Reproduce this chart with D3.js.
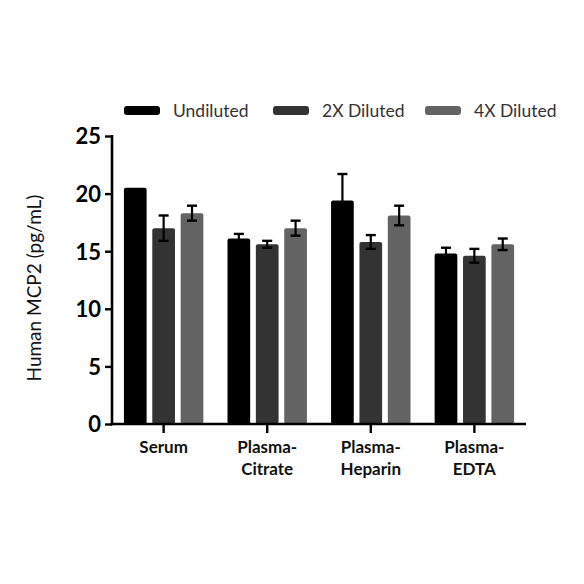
<!DOCTYPE html>
<html><head><meta charset="utf-8">
<script src="https://cdn.jsdelivr.net/npm/d3@7/dist/d3.min.js"></script>
<style>body{margin:0;background:#fff}svg{display:block}</style>
</head><body>
<svg id="c" width="584" height="584"></svg>
<script>
const categories = [["Serum"], ["Plasma-", "Citrate"], ["Plasma-", "Heparin"], ["Plasma-", "EDTA"]];
const seriesNames = ["Undiluted", "2X Diluted", "4X Diluted"];
const seriesColors = ["#000000", "#333333", "#636363"];
const undiluted = [20.5, 16.1, 19.4, 14.8];
const undilutedErr = [0.0, 0.4, 2.3, 0.5];
const diluted2x = [17.0, 15.6, 15.8, 14.6];
const diluted2xErr = [1.1, 0.3, 0.6, 0.6];
const diluted4x = [18.3, 17.0, 18.1, 15.6];
const diluted4xErr = [0.65, 0.65, 0.85, 0.5];
const yTicks = [0, 5, 10, 15, 20, 25];
const yTitle = "Human MCP2 (pg/mL)";

const values = [undiluted, diluted2x, diluted4x];
const errs = [undilutedErr, diluted2xErr, diluted4xErr];
const font = "Lato, 'Open Sans', sans-serif";

const svg = d3.select("#c");
const mLeft = 112, mRight = 526, mTop = 136, mBottom = 424;

const x0 = d3.scaleBand().domain(d3.range(categories.length)).range([mLeft, mRight]).paddingInner(0.233).paddingOuter(0.115);
const x1 = d3.scaleBand().domain(d3.range(seriesNames.length)).range([0, x0.bandwidth()]).paddingInner(0.2);
const y = d3.scaleLinear().domain([0, 25]).range([mBottom, mTop]);

// bars
const g = svg.append("g");
categories.forEach((c, i) => {
  seriesNames.forEach((s, j) => {
    const v = values[j][i], e = errs[j][i];
    const bx = x0(i) + x1(j);
    const bw = x1.bandwidth();
    g.append("rect").attr("x", bx).attr("y", y(v)).attr("width", bw).attr("height", y(0) - y(v))
      .attr("rx", 2).attr("fill", seriesColors[j]);
    if (e <= 0) return;
    const cx = bx + bw / 2;
    const capW = 10;
    g.append("line").attr("x1", cx).attr("x2", cx).attr("y1", y(v + e)).attr("y2", y(v - e))
      .attr("stroke", "#000").attr("stroke-width", 2.2);
    [v + e, v - e].forEach(t => {
      g.append("line").attr("x1", cx - capW / 2).attr("x2", cx + capW / 2).attr("y1", y(t)).attr("y2", y(t))
        .attr("stroke", "#000").attr("stroke-width", 2.4);
    });
  });
});

// y axis
const ya = svg.append("g").attr("transform", `translate(${mLeft},0)`)
  .call(d3.axisLeft(y).tickValues(yTicks).tickSize(7).tickPadding(4).tickSizeOuter(0));
ya.select(".domain").attr("stroke", "#000").attr("stroke-width", 2.6).attr("d", `M0,${mTop - 1}V${mBottom + 1.3}`);
ya.selectAll(".tick line").attr("stroke", "#000").attr("stroke-width", 2.4);
ya.selectAll(".tick text").attr("font-family", font).attr("font-weight", "bold").attr("font-size", 22).attr("fill", "#000").attr("dy", "0.36em");

// x axis
const xa = svg.append("g").attr("transform", `translate(0,${mBottom})`)
  .call(d3.axisBottom(d3.scaleLinear().range([mLeft, mRight])).tickValues([]).tickSizeOuter(0));
xa.select(".domain").attr("stroke", "#000").attr("stroke-width", 2.6).attr("d", `M${mLeft - 1.3},0H${mRight}`);
categories.forEach((c, i) => {
  const cx = x0(i) + x0.bandwidth() / 2;
  xa.append("line").attr("x1", cx).attr("x2", cx).attr("y1", 0).attr("y2", 9).attr("stroke", "#000").attr("stroke-width", 2.4);
  const t = xa.append("text").attr("text-anchor", "middle").attr("font-family", font).attr("font-weight", "bold")
    .attr("font-size", 17).attr("fill", "#111");
  c.forEach((line, k) => t.append("tspan").attr("x", cx).attr("y", 29 + k * 22).text(line));
});

// y title
svg.append("text").attr("transform", `translate(41,288) rotate(-90)`).attr("text-anchor", "middle")
  .attr("font-family", font).attr("font-size", 19).attr("fill", "#111").text(yTitle);

// legend
const legX = [124, 273, 425];
seriesNames.forEach((s, j) => {
  svg.append("rect").attr("x", legX[j]).attr("y", 106).attr("width", 36).attr("height", 9).attr("rx", 3).attr("fill", seriesColors[j]);
  svg.append("text").attr("x", legX[j] + 49).attr("y", 117).attr("font-family", font).attr("font-size", 17.5)
    .attr("fill", "#333").text(s);
});
</script>
</body></html>
